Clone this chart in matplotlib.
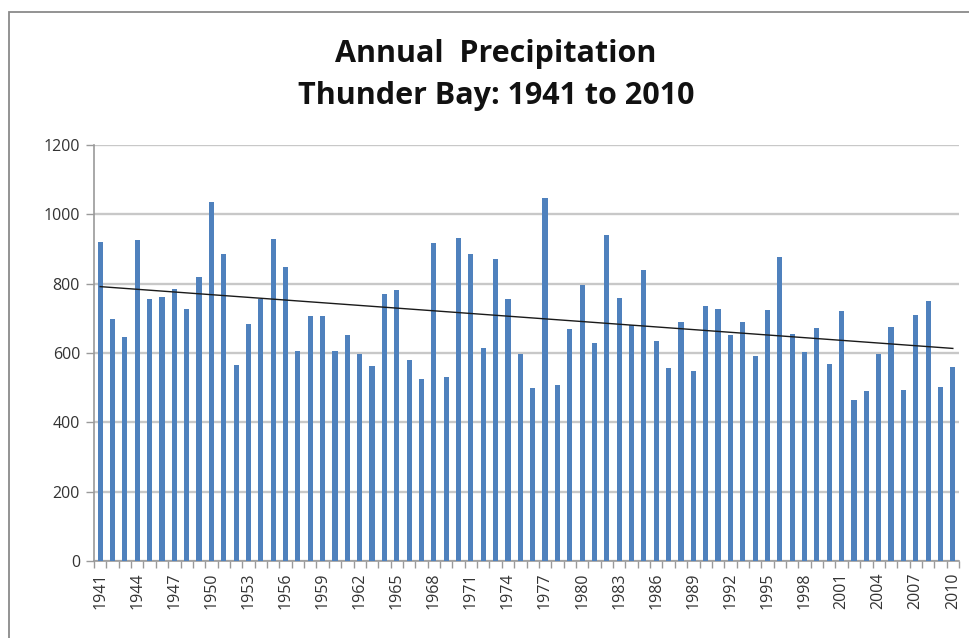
import numpy as np
import matplotlib.pyplot as plt
from matplotlib.patches import Rectangle

years = list(range(1941, 2011))
precip = [920, 698, 646, 926, 756, 761, 784, 727, 818, 1035,
          885, 565, 684, 757, 928, 847, 606, 707, 707, 606,
          652, 598, 562, 769, 782, 579, 525, 917, 530, 931,
          885, 613, 871, 756, 598, 498, 1046, 508, 669, 796,
          629, 940, 759, 680, 839, 634, 556, 688, 548, 737,
          726, 651, 688, 590, 724, 876, 654, 602, 671, 567,
          720, 463, 489, 598, 675, 493, 710, 749, 502, 559]
yticks = [0, 200, 400, 600, 800, 1000, 1200]
title = "Annual  Precipitation\nThunder Bay: 1941 to 2010"

W, H = 969, 638
fig = plt.figure(figsize=(W / 100, H / 100), dpi=100)
fig.patch.set_facecolor("white")

# chart border (left and top visible, right/bottom cut off)
fig.patches.append(Rectangle((9 / W, -0.05), 1.2, 1 - 12 / H + 0.05,
                             transform=fig.transFigure, fill=False,
                             edgecolor="#8a8a8a", linewidth=1.3))

left, right, top, bottom = 94, 959, 145, 561
ax = fig.add_axes([left / W, 1 - bottom / H, (right - left) / W, (bottom - top) / H])

x = np.arange(len(years))
ax.bar(x, precip, width=0.42, color="#4F81BD", zorder=3)

# linear trendline
coef = np.polyfit(x, precip, 1)
ax.plot(x, np.polyval(coef, x), color="#1a1a1a", linewidth=1.0, zorder=4)

ax.set_xlim(-0.5, len(years) - 0.5)
ax.set_ylim(0, 1200)
ax.set_yticks(yticks)
ax.set_yticklabels([str(v) for v in yticks], fontsize=11.5, color="#333333",
                   family=["Open Sans", "DejaVu Sans"])
ax.grid(axis="y", color="#c8c8c8", linewidth=1.7, zorder=0)
ax.set_axisbelow(True)

ax.set_xticks(x[::3])
ax.set_xticklabels([str(years[i]) for i in x[::3]], rotation=90, fontsize=11.5,
                   color="#333333", family=["Open Sans", "DejaVu Sans"])
ax.set_xticks(np.arange(-0.5, len(years), 1), minor=True)
ax.tick_params(axis="x", which="major", length=0, pad=8)
ax.tick_params(axis="x", which="minor", length=5, color="#9a9a9a", width=1)
ax.tick_params(axis="y", length=6, color="#9a9a9a", width=1, pad=4)

for s in ["top", "right"]:
    ax.spines[s].set_visible(False)
ax.spines["left"].set_color("#9a9a9a")
ax.spines["bottom"].set_color("#9a9a9a")
ax.spines["left"].set_linewidth(1.2)
ax.spines["bottom"].set_linewidth(1.2)

fig.text(496 / W, 1 - 75 / H, title, ha="center", va="center", fontsize=22,
         fontweight="bold", linespacing=1.5, color="#111111",
         family=["Open Sans", "DejaVu Sans"])

fig.savefig("out.png", dpi=100, facecolor="white")
